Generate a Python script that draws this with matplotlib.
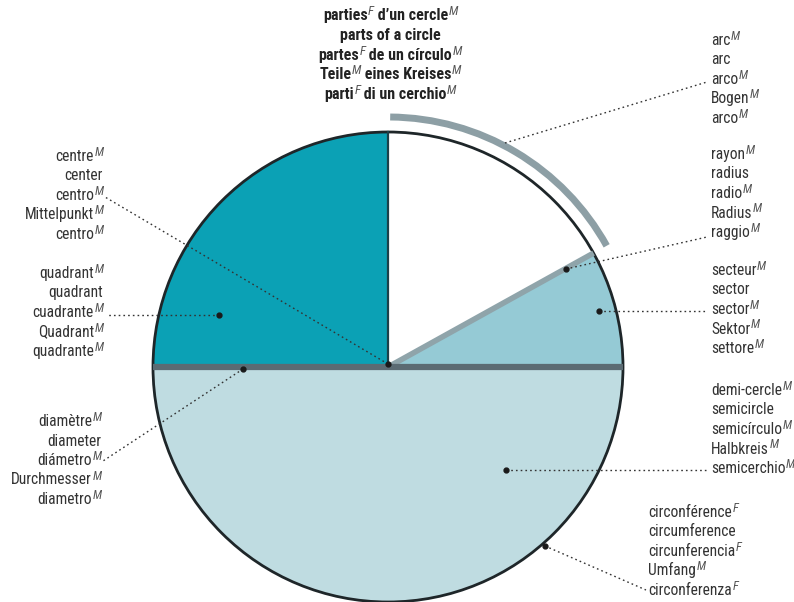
import matplotlib
matplotlib.use("Agg")
import matplotlib.pyplot as plt
from matplotlib.patches import Wedge, Circle, Arc
from matplotlib import font_manager
import numpy as np
import re

W, H = 794, 602

names = {f.name for f in font_manager.fontManager.ttflist}
FONT = next((f for f in ['Roboto Condensed', 'Liberation Sans Narrow', 'Liberation Sans'] if f in names), 'DejaVu Sans')
plt.rcParams['font.family'] = FONT

# --- data ---
title_lines = ["parties{F} d’un cercle{M}", "parts of a circle", "partes{F} de un círculo{M}",
               "Teile{M} eines Kreises{M}", "parti{F} di un cerchio{M}"]
arc_words = ["arc{M}", "arc", "arco{M}", "Bogen{M}", "arco{M}"]
radius_words = ["rayon{M}", "radius", "radio{M}", "Radius{M}", "raggio{M}"]
sector_words = ["secteur{M}", "sector", "sector{M}", "Sektor{M}", "settore{M}"]
semicircle_words = ["demi-cercle{M}", "semicircle", "semicírculo{M}", "Halbkreis{M}", "semicerchio{M}"]
circumference_words = ["circonférence{F}", "circumference", "circunferencia{F}", "Umfang{M}", "circonferenza{F}"]
centre_words = ["centre{M}", "center", "centro{M}", "Mittelpunkt{M}", "centro{M}"]
quadrant_words = ["quadrant{M}", "quadrant", "cuadrante{M}", "Quadrant{M}", "quadrante{M}"]
diameter_words = ["diamètre{M}", "diameter", "diámetro{M}", "Durchmesser{M}", "diametro{M}"]

sector_deg = 29        # small sector, 0 -> 29 degrees
arc_span = (29, 89.5)  # highlighted arc
quadrant_span = (90, 180)
semicircle_span = (180, 360)

fig = plt.figure(figsize=(W / 100, H / 100), dpi=100)
ax = fig.add_axes([0, 0, 1, 1])
ax.set_xlim(0, W)
ax.set_ylim(0, H)
ax.set_aspect('equal')
ax.axis('off')
renderer = fig.canvas.get_renderer()


def P(x, y):
    return x, H - y


def label(x, y, s, ha='left', size=11.2, weight='normal', color='#333333'):
    # word pieces plus gender superscripts, laid out by hand
    parts = [p for p in re.split(r"(\{[MF]\})", s) if p]
    arts = []
    for p in parts:
        if p.startswith("{"):
            a = ax.text(0, 0, p[1], fontsize=size * 0.8, style='italic',
                        color='#555555', va='baseline', ha='left')
            arts.append((a, True))
        else:
            a = ax.text(0, 0, p, fontsize=size, fontweight=weight,
                        color=color, va='baseline', ha='left')
            arts.append((a, False))
    widths = [a.get_window_extent(renderer).width for a, _ in arts]
    total = sum(widths)
    px, py = P(x, y)
    start = {'left': px, 'center': px - total / 2, 'right': px - total}[ha]
    for (a, is_sup), w in zip(arts, widths):
        if is_sup:
            a.set_position((start + 0.5, py + 5))
        else:
            a.set_position((start, py))
        start += w


cx, cy = P(388, 367)
R = 235

ax.add_patch(Wedge((cx, cy), R, *semicircle_span, facecolor='#bfdce1', edgecolor='none'))
ax.add_patch(Wedge((cx, cy), R, *quadrant_span, facecolor='#0ba1b5', edgecolor='none'))
ax.add_patch(Wedge((cx, cy), R, 0, sector_deg, facecolor='#95cad5', edgecolor='none'))

t = np.radians(sector_deg)
ax.plot([cx, cx + R * np.cos(t)], [cy, cy + R * np.sin(t)], color='#8fa4aa', lw=4, solid_capstyle='butt')
ax.plot([cx, cx], [cy, cy + R], color='#1b4049', lw=1.6)
ax.plot([cx - R, cx + R], [cy, cy], color='#5b6b73', lw=4.5, solid_capstyle='butt')
ax.add_patch(Circle((cx, cy), R, facecolor='none', edgecolor='#1e2629', lw=2))
ax.add_patch(Arc((cx, cy), 2 * 250, 2 * 250, theta1=arc_span[0], theta2=arc_span[1],
                 color='#8d9fa5', lw=5, capstyle='butt'))

# leader lines: (start, end, dot at start)
leaders = [
    ((505, 143), (707, 82), False),
    ((566, 269), (707, 237), True),
    ((599, 311), (707, 311), True),
    ((506, 470), (707, 470), True),
    ((545, 546), (646, 590), True),
    ((388, 364), (105, 197), True),
    ((219, 315), (106, 315), True),
    ((243, 369), (103, 461), True),
]
for s, e, dot in leaders:
    (x0, y0), (x1, y1) = P(*s), P(*e)
    ax.plot([x0, x1], [y0, y1], color='#333333', lw=1.0, linestyle=(0, (1.2, 2.2)))
    if dot:
        ax.plot(x0, y0, 'o', color='#1a1a1a', ms=3.5)

# title
for i, line in enumerate(title_lines):
    label(390, 20 + i * 19.8, line, ha='center', size=11.5, weight='bold', color='#222222')

groups = [
    (arc_words, 711, 45, 'left'),
    (radius_words, 711, 159, 'left'),
    (sector_words, 711, 275, 'left'),
    (semicircle_words, 711, 395, 'left'),
    (circumference_words, 648, 517, 'left'),
    (centre_words, 103, 161, 'right'),
    (quadrant_words, 103, 278, 'right'),
    (diameter_words, 101, 426, 'right'),
]
for words, x, y0, ha in groups:
    for i, w in enumerate(words):
        label(x, y0 + i * 19.5, w, ha=ha)

fig.savefig("out.png", dpi=100, facecolor='white')
